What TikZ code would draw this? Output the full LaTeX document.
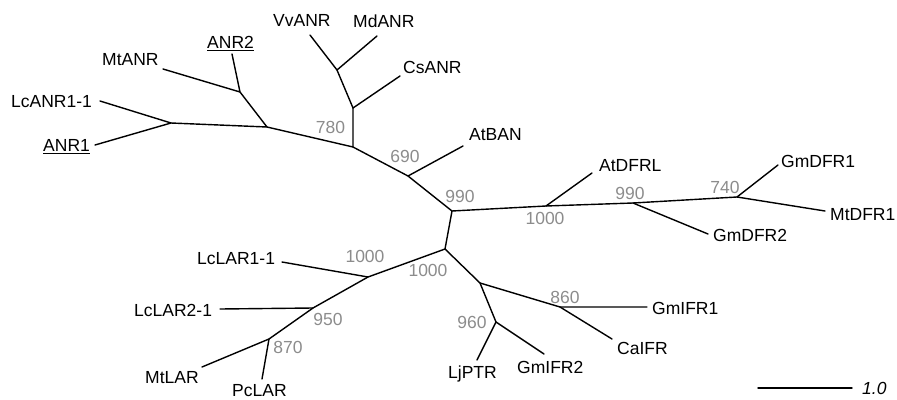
\documentclass[tikz,border=0pt]{standalone}
\usepackage{fontspec}
\setmainfont{Liberation Sans}
\definecolor{bootgray}{HTML}{8C8C8C}
\begin{document}
\begin{tikzpicture}[x=1pt,y=-1pt,
  branch/.style={line width=1.4pt, line cap=round, line join=round},
  taxon/.style={inner sep=0pt, anchor=west, text height=13pt, text depth=0pt, font=\fontsize{17.5}{20}\selectfont},
  boot/.style={inner sep=0pt, anchor=center, text height=13pt, text depth=0pt, text=bootgray, font=\fontsize{17.5}{20}\selectfont}]
\useasboundingbox (0,0) rectangle (897,399);
% internal nodes
\coordinate (A) at (171,123);
\coordinate (B) at (267,127);
\coordinate (C) at (240,92);
\coordinate (D) at (353,147);
\coordinate (F) at (353,108);
\coordinate (E) at (337,70);
\coordinate (G) at (408,176);
\coordinate (H) at (452,211);
\coordinate (I) at (546,206);
\coordinate (J) at (633,203);
\coordinate (K) at (737,197);
\coordinate (L) at (445,249);
\coordinate (M) at (368,277);
\coordinate (N) at (313,308);
\coordinate (O) at (269,339);
\coordinate (P) at (480,283);
\coordinate (Q) at (496,322);
\coordinate (R) at (560,307);
% leaf ends
\coordinate (lLcANR) at (100,101);
\coordinate (lANR1) at (95,145);
\coordinate (lMtANR) at (163,69);
\coordinate (lANR2) at (232,54);
\coordinate (lVvANR) at (310,35);
\coordinate (lMdANR) at (377,36);
\coordinate (lCsANR) at (400,76);
\coordinate (lAtBAN) at (463,146);
\coordinate (lAtDFRL) at (592,173);
\coordinate (lGmDFR2) at (708,234);
\coordinate (lGmDFR1) at (778,165);
\coordinate (lMtDFR1) at (825,211);
\coordinate (lLcLAR1) at (282,262);
\coordinate (lLcLAR2) at (220,309);
\coordinate (lMtLAR) at (202,367);
\coordinate (lPcLAR) at (262,379);
\coordinate (lLjPTR) at (477,360);
\coordinate (lGmIFR2) at (544,354);
\coordinate (lGmIFR1) at (647,307);
\coordinate (lCaIFR) at (612,339);
\coordinate (s1) at (758,388);
\coordinate (s2) at (852,388);
% branches
\draw[branch] (lLcANR) -- (A) -- (lANR1);
\draw[branch] (A) -- (B) -- (C);
\draw[branch] (lMtANR) -- (C) -- (lANR2);
\draw[branch] (B) -- (D) -- (F) -- (E);
\draw[branch] (lVvANR) -- (E) -- (lMdANR);
\draw[branch] (F) -- (lCsANR);
\draw[branch] (D) -- (G) -- (lAtBAN);
\draw[branch] (G) -- (H) -- (I) -- (lAtDFRL);
\draw[branch] (I) -- (J) -- (lGmDFR2);
\draw[branch] (J) -- (K) -- (lGmDFR1);
\draw[branch] (K) -- (lMtDFR1);
\draw[branch] (H) -- (L) -- (M) -- (lLcLAR1);
\draw[branch] (M) -- (N) -- (lLcLAR2);
\draw[branch] (N) -- (O) -- (lMtLAR);
\draw[branch] (O) -- (lPcLAR);
\draw[branch] (L) -- (P) -- (Q) -- (lLjPTR);
\draw[branch] (Q) -- (lGmIFR2);
\draw[branch] (P) -- (R) -- (lGmIFR1);
\draw[branch] (R) -- (lCaIFR);
\draw[branch] (s1) -- (s2);
% taxon labels
\node[taxon] (tLcANR) at (11,101) {LcANR1-1};
\node[taxon] (tANR1) at (43,145) {\underline{ANR1}};
\node[taxon] (tMtANR) at (102,58.5) {MtANR};
\node[taxon] (tANR2) at (207,42) {\underline{ANR2}};
\node[taxon] (tVvANR) at (273,20) {VvANR};
\node[taxon] (tMdANR) at (353,21) {MdANR};
\node[taxon] (tCsANR) at (403,67) {CsANR};
\node[taxon] (tAtBAN) at (469,134) {AtBAN};
\node[taxon] (tAtDFRL) at (599,165) {AtDFRL};
\node[taxon] (tGmDFR1) at (781,161) {GmDFR1};
\node[taxon] (tMtDFR1) at (830,214) {MtDFR1};
\node[taxon] (tGmDFR2) at (713,235) {GmDFR2};
\node[taxon] (tLcLAR1) at (197,258) {LcLAR1-1};
\node[taxon] (tLcLAR2) at (134,310) {LcLAR2-1};
\node[taxon] (tMtLAR) at (145,377) {MtLAR};
\node[taxon] (tPcLAR) at (232,390) {PcLAR};
\node[taxon] (tLjPTR) at (448,372) {LjPTR};
\node[taxon] (tGmIFR2) at (517,367) {GmIFR2};
\node[taxon] (tGmIFR1) at (652,308) {GmIFR1};
\node[taxon] (tCaIFR) at (617,348) {CaIFR};
\node[taxon] (tscale) at (862,388) {\itshape 1.0};
% bootstrap values
\node[boot] (b780) at (330.5,127) {780};
\node[boot] (b690) at (405,156) {690};
\node[boot] (b990a) at (460,196) {990};
\node[boot] (b1000a) at (545,218) {1000};
\node[boot] (b990b) at (630,193) {990};
\node[boot] (b740) at (725,187) {740};
\node[boot] (b1000b) at (365,256) {1000};
\node[boot] (b1000c) at (428,270) {1000};
\node[boot] (b950) at (328,319) {950};
\node[boot] (b870) at (288,347) {870};
\node[boot] (b960) at (472,322) {960};
\node[boot] (b860) at (565,297) {860};
\end{tikzpicture}
\end{document}
